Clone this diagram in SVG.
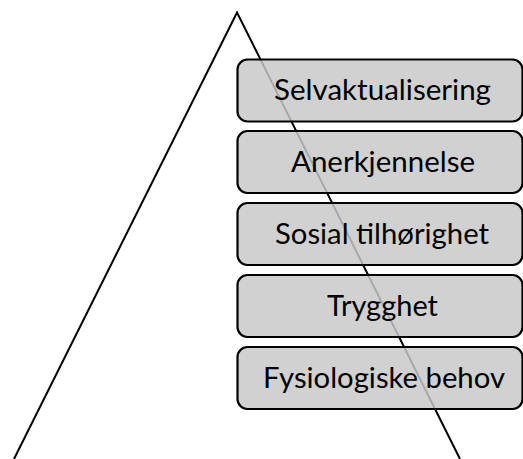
<svg xmlns="http://www.w3.org/2000/svg" width="523" height="459" viewBox="0 0 523 459">
<style>
.box{fill:rgb(200,200,200);fill-opacity:0.84;stroke:#000;stroke-width:2.2}
.lbl{font-family:Lato,"Liberation Sans",sans-serif;font-size:28px;fill:#000;text-anchor:middle}
</style>
<rect width="523" height="459" fill="#fff"/>
<g id="connectors">
<polyline points="14,459 237,12.5 460,459" fill="none" stroke="#000" stroke-width="2"/>
</g>
<g id="n1"><rect class="box" x="237.5" y="59.5" width="285" height="62" rx="10"/><text class="lbl" x="382.5" y="100" textLength="217" lengthAdjust="spacingAndGlyphs">Selvaktualisering</text></g>
<g id="n2"><rect class="box" x="237.5" y="131" width="285" height="62" rx="10"/><text class="lbl" x="383" y="171.5" textLength="184" lengthAdjust="spacingAndGlyphs">Anerkjennelse</text></g>
<g id="n3"><rect class="box" x="237.5" y="203" width="285" height="62" rx="10"/><text class="lbl" x="382" y="243.5" textLength="214" lengthAdjust="spacingAndGlyphs">Sosial tilhørighet</text></g>
<g id="n4"><rect class="box" x="237.5" y="275" width="285" height="62" rx="10"/><text class="lbl" x="382.5" y="315.5" textLength="111" lengthAdjust="spacingAndGlyphs">Trygghet</text></g>
<g id="n5"><rect class="box" x="237.5" y="347" width="285" height="62" rx="10"/><text class="lbl" x="384" y="388" textLength="242" lengthAdjust="spacingAndGlyphs">Fysiologiske behov</text></g>
</svg>
